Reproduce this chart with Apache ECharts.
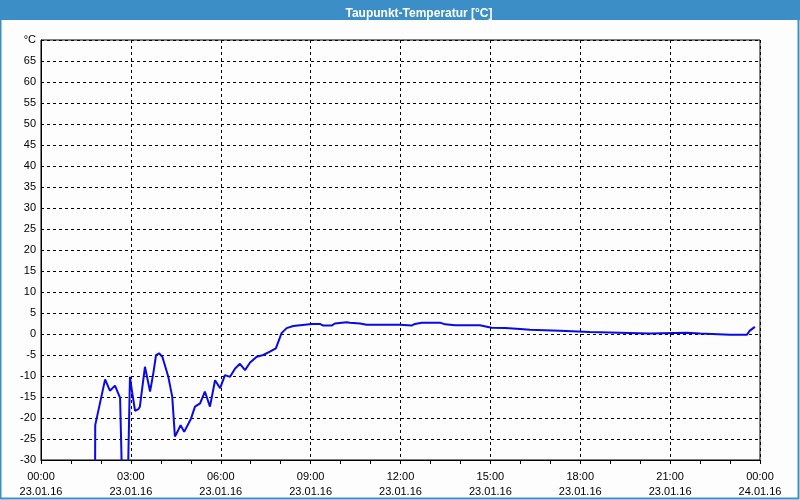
<!DOCTYPE html>
<html>
<head>
<meta charset="utf-8">
<script src="https://cdn.jsdelivr.net/npm/echarts@6/dist/echarts.min.js"></script>
<style>
html,body{margin:0;padding:0;background:#fcfdfc;}
#chart{width:800px;height:500px;}
</style>
</head>
<body>
<div id="chart"></div>
<script>
// hours since 23.01.16 00:00
const hours = [1.80,1.81,2.14,2.30,2.47,2.64,2.74,2.87,2.97,3.03,3.14,3.25,3.30,3.47,3.64,3.75,3.84,3.94,4.05,4.25,4.38,4.47,4.58,4.66,4.78,5.01,5.14,5.31,5.47,5.64,5.81,5.98,6.14,6.31,6.48,6.64,6.81,6.98,7.20,7.42,7.64,7.84,8.03,8.20,8.42,8.65,9.04,9.31,9.42,9.70,9.81,10.20,10.31,10.65,10.87,11.98,12.37,12.48,12.71,13.32,13.49,13.82,14.65,14.71,15.04,15.49,15.99,16.32,17.32,18.32,19.30,20.31,21.55,22.00,23.00,23.56,23.66,23.83];
const dewPoint = [-45,-21.7,-10.8,-13.5,-12.3,-15.2,-45,-45,-10.2,-13.3,-18.3,-17.9,-17.3,-7.8,-13.7,-9.3,-5.0,-4.6,-5.4,-10.2,-14.9,-24.4,-22.9,-21.7,-23.3,-20.1,-17.3,-16.5,-13.7,-17.3,-11.0,-12.9,-9.8,-10.2,-8.2,-7.1,-8.6,-6.8,-5.4,-5.0,-4.2,-3.4,0.2,1.4,1.9,2.1,2.4,2.4,2.0,2.0,2.5,2.8,2.7,2.5,2.2,2.2,2.0,2.4,2.7,2.7,2.3,2.1,2.1,1.7,1.5,1.4,1.2,1.0,0.8,0.5,0.3,0.1,0.3,0.1,-0.2,-0.2,0.8,1.7];
const yTicks = [-30,-25,-20,-15,-10,-5,0,5,10,15,20,25,30,35,40,45,50,55,60,65,70];
const titleText = 'Taupunkt-Temperatur [°C]';
const unitLabel = '°C';

const chart = echarts.init(document.getElementById('chart'), null, {renderer:'canvas'});
const font = 'Liberation Sans';
const pad = n => (n < 10 ? '0' : '') + n;
chart.setOption({
  animation: false,
  backgroundColor: '#fcfdfc',
  graphic: [
    {type:'rect', z:0, shape:{x:0.5,y:0.5,width:798,height:498}, style:{fill:'none', stroke:'#3c8fc6', lineWidth:2}},
    {type:'rect', z:1, shape:{x:0,y:0,width:800,height:20}, style:{fill:'#3c8fc6'}}
  ],
  title: {
    text: titleText, left: 414, top: 3, textAlign: 'center',
    textStyle: {color:'#fff', fontFamily: font, fontSize: 12, fontWeight: 'bold'}, z: 10
  },
  grid: {left: 41, right: 40, top: 40, bottom: 40, show: true, borderColor: '#000', borderWidth: 1, backgroundColor: 'transparent'},
  xAxis: {
    type: 'value', min: 0, max: 24, interval: 3,
    axisLine: {show: true, onZero: false, lineStyle: {color:'#000', width:1}},
    axisTick: {show: true, length: 4, lineStyle: {color:'#000'}},
    minorTick: {show: true, splitNumber: 3, length: 4, lineStyle: {color:'#000'}},
    splitLine: {show: true, lineStyle: {color:'#000', type:[3,3], width:1}},
    axisLabel: {
      color:'#000', fontFamily: font, fontSize: 11, lineHeight: 15, margin: 9,
      formatter: v => (v >= 24 ? '00:00\n24.01.16' : pad(v) + ':00\n23.01.16')
    }
  },
  yAxis: {
    type: 'value', min: -30, max: 70, interval: 5,
    axisLine: {show: true, onZero: false, lineStyle: {color:'#000', width:1}},
    axisTick: {show: false},
    splitLine: {show: true, lineStyle: {color:'#000', type:[3,3], width:1}},
    axisLabel: {
      color:'#000', fontFamily: font, fontSize: 11, margin: 5, padding: [7,0,0,0],
      formatter: v => (v === 70 ? unitLabel : (yTicks.includes(v) ? String(v) : ''))
    }
  },
  series: [{
    type: 'line', data: hours.map((h, i) => [h, dewPoint[i]]),
    showSymbol: false, clip: true,
    lineStyle: {color: '#0a0ae8', width: 2}
  }]
});
</script>
</body>
</html>
